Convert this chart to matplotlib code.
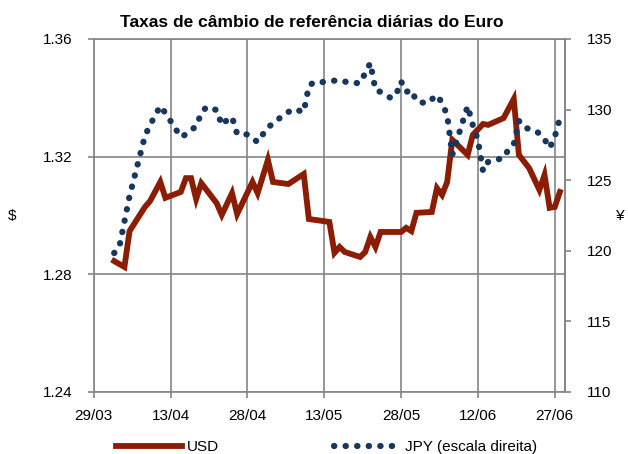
import matplotlib
matplotlib.use("Agg")
import matplotlib.pyplot as plt
import matplotlib.dates as mdates
from matplotlib.lines import Line2D
import pandas as pd

plt.rcParams["font.family"] = ["Liberation Sans", "DejaVu Sans"]

# ECB daily reference rates, euro against USD and JPY (2013)
usd_dates = ["2013-04-02", "2013-04-04", "2013-04-05", "2013-04-08", "2013-04-09",
             "2013-04-11", "2013-04-12", "2013-04-15", "2013-04-16", "2013-04-17",
             "2013-04-18", "2013-04-19", "2013-04-22", "2013-04-23", "2013-04-25",
             "2013-04-26", "2013-04-29", "2013-04-30", "2013-05-02", "2013-05-03",
             "2013-05-06", "2013-05-09", "2013-05-10", "2013-05-14", "2013-05-15",
             "2013-05-16", "2013-05-17", "2013-05-20", "2013-05-21", "2013-05-22",
             "2013-05-23", "2013-05-24", "2013-05-28", "2013-05-29", "2013-05-30",
             "2013-05-31", "2013-06-03", "2013-06-04", "2013-06-05", "2013-06-06",
             "2013-06-07", "2013-06-10", "2013-06-11", "2013-06-13", "2013-06-14",
             "2013-06-17", "2013-06-19", "2013-06-20", "2013-06-22", "2013-06-24",
             "2013-06-25", "2013-06-26", "2013-06-27", "2013-06-28"]
usd_values = [1.2845, 1.2825, 1.2947, 1.3029, 1.3049,
              1.3114, 1.3060, 1.3080, 1.3127, 1.3127,
              1.3056, 1.3110, 1.3042, 1.3002, 1.3076,
              1.3005, 1.3114, 1.3076, 1.3189, 1.3114,
              1.3107, 1.3141, 1.2988, 1.2978, 1.2873,
              1.2893, 1.2876, 1.2859, 1.2876, 1.2927,
              1.2893, 1.2944, 1.2944, 1.2958, 1.2947,
              1.3009, 1.3012, 1.3093, 1.3070, 1.3114,
              1.3257, 1.3206, 1.3274, 1.3311, 1.3308,
              1.3331, 1.3396, 1.3206, 1.3161, 1.3087,
              1.3138, 1.3026, 1.3029, 1.3080]

jpy_dates = ["2013-04-02", "2013-04-03", "2013-04-05", "2013-04-08", "2013-04-09",
             "2013-04-10", "2013-04-11", "2013-04-12", "2013-04-15", "2013-04-16",
             "2013-04-17", "2013-04-18", "2013-04-19", "2013-04-20", "2013-04-22",
             "2013-04-23", "2013-04-24", "2013-04-25", "2013-04-26", "2013-04-28",
             "2013-04-30", "2013-05-02", "2013-05-03", "2013-05-05", "2013-05-07",
             "2013-05-09", "2013-05-10", "2013-05-11", "2013-05-13", "2013-05-16",
             "2013-05-18", "2013-05-20", "2013-05-22", "2013-05-23", "2013-05-24",
             "2013-05-26", "2013-05-27", "2013-05-28", "2013-05-29", "2013-05-30",
             "2013-05-31", "2013-06-02", "2013-06-04", "2013-06-05", "2013-06-06",
             "2013-06-07", "2013-06-10", "2013-06-11", "2013-06-12", "2013-06-13",
             "2013-06-14", "2013-06-17", "2013-06-18", "2013-06-19", "2013-06-20",
             "2013-06-21", "2013-06-23", "2013-06-24", "2013-06-25", "2013-06-26",
             "2013-06-27", "2013-06-28"]
jpy_values = [119.84, 120.27, 123.88, 128.13, 128.91,
              129.58, 130.25, 129.76, 128.06, 128.24,
              128.56, 128.80, 129.76, 130.18, 129.97,
              128.90, 129.26, 129.48, 128.27, 128.24,
              127.70, 128.77, 128.98, 129.62, 130.04,
              129.83, 131.67, 131.95, 131.95, 132.10,
              131.88, 131.88, 133.30, 131.39, 131.25,
              130.82, 131.03, 132.00, 131.25, 131.39,
              130.60, 130.43, 131.03, 130.47, 129.60,
              126.80, 130.25, 128.90, 127.85, 125.65,
              126.30, 126.57, 127.20, 127.55, 129.20,
              128.72, 128.56, 128.30, 127.90, 127.28,
              128.06, 129.40]

usd_ticks = [1.24, 1.28, 1.32, 1.36]
jpy_ticks = [110, 115, 120, 125, 130, 135]
date_ticks = ["2013-03-29", "2013-04-13", "2013-04-28", "2013-05-13",
              "2013-05-28", "2013-06-12", "2013-06-27"]

usd_x = pd.to_datetime(usd_dates)
jpy_x = pd.to_datetime(jpy_dates)
tick_x = pd.to_datetime(date_ticks)

RED = "#8B1D04"
NAVY = "#17375E"
GREY = "#858585"
FS = 11
DOTS = (0, (0.05, 1.8))

fig = plt.figure(figsize=(6.28, 4.54), dpi=100)
ax = fig.add_axes([0.1492, 0.1366, 0.8997 - 0.1492, 0.9141 - 0.1366])
ax2 = ax.twinx()

ax.plot(usd_x, usd_values, color=RED, lw=4.2, solid_joinstyle="miter", zorder=3)
ax2.plot(jpy_x, jpy_values, color=NAVY, lw=4.5, linestyle=DOTS,
         dash_capstyle="round", zorder=3)

ax.set_xlim(pd.Timestamp("2013-03-29"), pd.Timestamp("2013-06-29"))
ax.set_ylim(1.24, 1.36)
ax2.set_ylim(110, 135)

ax.set_xticks(tick_x)
ax.xaxis.set_major_formatter(mdates.DateFormatter("%d/%m"))
ax.set_yticks(usd_ticks)
ax.set_yticklabels([f"{v:.2f}" for v in usd_ticks])
ax2.set_yticks(jpy_ticks)
ax2.set_yticklabels([str(v) for v in jpy_ticks])

ax.grid(True, color=GREY, lw=1.2)
ax.set_axisbelow(True)

for a in (ax, ax2):
    for s in a.spines.values():
        s.set_color(GREY)
        s.set_linewidth(1.2)
ax2.spines["left"].set_visible(False)
ax2.spines["top"].set_visible(False)
ax2.spines["bottom"].set_visible(False)

ax.tick_params(axis="both", colors=GREY, length=4, width=1.2, labelsize=FS,
               labelcolor="black")
ax.tick_params(axis="y", pad=11)
ax.tick_params(axis="x", pad=8)
ax2.tick_params(axis="y", colors=GREY, length=4, width=1.2, labelsize=FS,
                labelcolor="black", pad=12)

fig.text(0.497, 0.951, "Taxas de câmbio de referência diárias do Euro",
         ha="center", va="center", fontsize=12.5, fontweight="bold")
fig.text(0.020, 0.525, "$", ha="center", va="center", fontsize=FS)
fig.text(0.988, 0.525, "¥", ha="center", va="center", fontsize=FS)

handles = [Line2D([], [], color=RED, lw=4.2),
           Line2D([], [], color=NAVY, lw=4.5, linestyle=DOTS,
                  dash_capstyle="round")]
fig.legend(handles, ["USD", "JPY (escala direita)"], ncol=2, frameon=False,
           loc="center", bbox_to_anchor=(0.52, 0.015), fontsize=FS,
           handlelength=4.3, handletextpad=0.35, columnspacing=7.5,
           borderaxespad=0, borderpad=0)

fig.savefig("out.png", dpi=100)
